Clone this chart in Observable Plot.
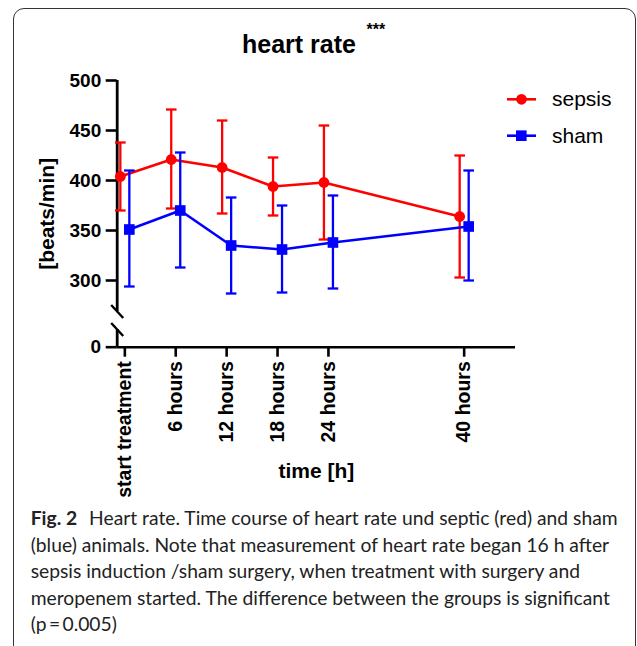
<!DOCTYPE html>
<html><head><meta charset="utf-8">
<script src="https://cdn.jsdelivr.net/npm/d3@7"></script>
<script src="https://cdn.jsdelivr.net/npm/@observablehq/plot@0.6"></script>
<style>
html,body{margin:0;padding:0;background:#fff;}
#wrap{position:relative;width:637px;height:646px;overflow:hidden;background:#fff;}
#border{position:absolute;left:13px;top:8px;width:623px;height:652px;border:1.3px solid #333;border-radius:11px;box-sizing:border-box;}
#chart{position:absolute;left:0;top:0;}
#overlay{position:absolute;left:0;top:0;pointer-events:none;}
[aria-label="x-axis label"], [aria-label="y-axis label"]{font-size:21px;}
[aria-label="x-axis tick"], [aria-label="y-axis tick"],
[aria-label="x-axis tick"] path, [aria-label="y-axis tick"] path{stroke-width:2.6px; stroke:#000; stroke-opacity:1;}
</style></head>
<body><div id="wrap"><div id="border"></div><div id="chart"></div><svg id="overlay" width="637" height="646"></svg></div>
<script>
const timeLabels = ["start treatment","6 hours","12 hours","18 hours","24 hours","40 hours"];
const hours = [0, 6, 12, 18, 24, 40];
const sepsisMean  = [404, 421, 413, 394, 398, 364];
const sepsisUpper = [438, 471, 460, 423, 455, 425];
const sepsisLower = [370, 372, 367, 365, 341, 303];
const shamMean  = [351, 370, 335, 331, 338, 354];
const shamUpper = [410, 428, 383, 375, 385, 410];
const shamLower = [294, 313, 287, 288, 292, 300];
const yTicks = [0, 300, 350, 400, 450, 500];
const seriesNames = ["sepsis", "sham"];
const seriesColors = ["#ff0000", "#0000ff"];
const captionLines = [
  "Heart rate. Time course of heart rate und septic (red) and sham",
  "(blue) animals. Note that measurement of heart rate began 16 h after",
  "sepsis induction /sham surgery, when treatment with surgery and",
  "meropenem started. The difference between the groups is significant",
  "(p\u2009=\u20090.005)"
];

// broken y axis: values below the break are compressed into the short segment next to 0
const breakAt = 265, zeroPos = 233.3;
const yPos = v => v >= breakAt ? v : zeroPos + v * (breakAt - zeroPos) / breakAt;
const yLo = yPos(0), yHi = 500;
const gapTop = 269, gapBottom = 251; // axis-line gap (in transformed units)

const xMin = -0.9, xMax = 46.05;
const mk = (m, hi, lo) => hours.map((h, i) => ({h, mean: m[i], hi: hi[i], lo: lo[i]}));
const sepsis = mk(sepsisMean, sepsisUpper, sepsisLower);
const sham = mk(shamMean, shamUpper, shamLower);

const capSym = {draw(ctx){ ctx.moveTo(-5.3, 0); ctx.lineTo(5.3, 0); }};
const slashSym = {draw(ctx){ ctx.moveTo(-6, -6.5); ctx.lineTo(6, 6.5); }};

function series(data, color, symbol, r, dx) {
  return [
    Plot.ruleX(data, {x: "h", y1: d => yPos(d.lo), y2: d => yPos(d.hi), dx, stroke: color, strokeWidth: 2.3}),
    Plot.dot(data, {x: "h", y: d => yPos(d.hi), dx, symbol: capSym, fill: "none", stroke: color, strokeWidth: 2.3}),
    Plot.dot(data, {x: "h", y: d => yPos(d.lo), dx, symbol: capSym, fill: "none", stroke: color, strokeWidth: 2.3}),
    Plot.line(data, {x: "h", y: d => yPos(d.mean), dx, stroke: color, strokeWidth: 2.6}),
    Plot.dot(data, {x: "h", y: d => yPos(d.mean), dx, symbol, r, fill: color, stroke: "none"})
  ];
}

const chart = Plot.plot({
  width: 637, height: 500,
  marginLeft: 116.7, marginRight: 122, marginTop: 80, marginBottom: 153.3,
  x: {domain: [xMin, xMax]},
  y: {domain: [yLo, yHi]},
  style: {fontFamily: "'Liberation Sans', Arial, sans-serif", fontSize: "19px", color: "#000", background: "transparent"},
  marks: [
    Plot.ruleY([yLo], {stroke: "#000", strokeWidth: 2.6}),
    Plot.ruleX([xMin], {y1: yHi, y2: gapTop, stroke: "#000", strokeWidth: 2.8}),
    Plot.ruleX([xMin], {y1: gapBottom, y2: yLo, stroke: "#000", strokeWidth: 2.8}),
    Plot.dot([gapTop, gapBottom], {x: () => xMin, y: d => d, symbol: slashSym, fill: "none", stroke: "#000", strokeWidth: 2.4}),
    Plot.axisY(yTicks.map(yPos), {tickFormat: d => String(yTicks[yTicks.map(yPos).indexOf(d)]),
      tickSize: 11, tickPadding: 5, strokeWidth: 2.6, fontWeight: "bold", fontSize: 19,
      label: "[beats/min]", labelAnchor: "center", labelOffset: 78, labelArrow: false}),
    Plot.axisX(hours, {tickFormat: d => timeLabels[hours.indexOf(d)], tickRotate: -90, tickSize: 10, tickPadding: 4,
      strokeWidth: 2.6, fontWeight: "bold", fontSize: 19.5, label: "time [h]", labelAnchor: "center", labelOffset: 131, labelArrow: false}),
    ...series(sepsis, seriesColors[0], "circle", 5.4, -4.5),
    ...series(sham, seriesColors[1], "square", 6, 4.5)
  ]
});
document.getElementById("chart").appendChild(chart);

// overlay: title, legend, caption
const ov = d3.select("#overlay");
const ff = "'Liberation Sans', Arial, sans-serif";
ov.append("text").attr("x", 299).attr("y", 53.3).attr("text-anchor", "middle")
  .attr("font-family", ff).attr("font-weight", "bold").attr("font-size", 25).text("heart rate");
ov.append("text").attr("x", 366.5).attr("y", 35).attr("font-family", ff).attr("font-weight", "bold")
  .attr("font-size", 16).text("***");

const legY = [99.3, 135.7];
seriesNames.forEach((name, i) => {
  const g = ov.append("g");
  g.append("line").attr("x1", 507).attr("x2", 536).attr("y1", legY[i]).attr("y2", legY[i])
    .attr("stroke", seriesColors[i]).attr("stroke-width", 2.6);
  if (i === 0) g.append("circle").attr("cx", 521.5).attr("cy", legY[i]).attr("r", 5.4).attr("fill", seriesColors[i]);
  else g.append("rect").attr("x", 516).attr("y", legY[i] - 5.3).attr("width", 10.6).attr("height", 10.6).attr("fill", seriesColors[i]);
  g.append("text").attr("x", 552).attr("y", legY[i] + 6.8).attr("font-family", ff).attr("font-size", 21).text(name);
});

const capFont = "Lato, 'Open Sans', sans-serif";
const capBase = [525, 551.5, 578, 604.5, 631];
const capTexts = [];
captionLines.forEach((line, i) => {
  const t = ov.append("text").attr("x", 30.7).attr("y", capBase[i]).attr("font-family", capFont)
    .attr("font-size", 17).attr("fill", "#222");
  if (i === 0) {
    t.append("tspan").attr("font-weight", "bold").text("Fig. 2");
    t.append("tspan").attr("dx", 12).text(line);
  } else t.text(line);
  capTexts.push(t);
});
const bb = capTexts[0].node().getBBox();
const fs = 17 * 589 / bb.width;
capTexts.forEach(t => t.attr("font-size", fs));
</script></body></html>
